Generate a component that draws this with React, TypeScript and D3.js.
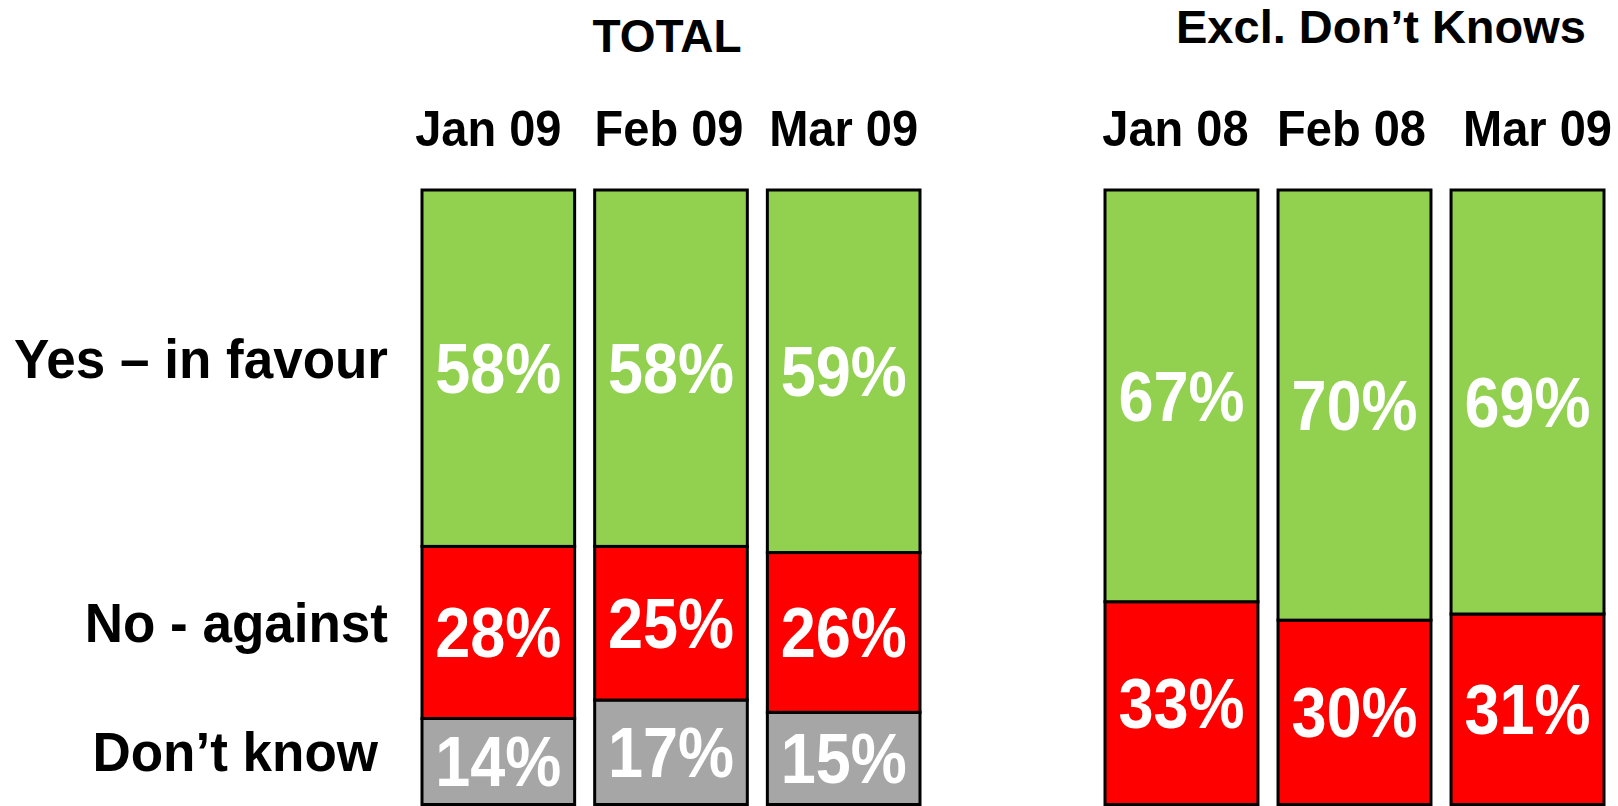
import React from 'react';
import * as d3 from 'd3';

const totalMonths = ['Jan 09', 'Feb 09', 'Mar 09'];
const totalYes = [58, 58, 59];
const totalNo = [28, 25, 26];
const totalDontKnow = [14, 17, 15];

const exclMonths = ['Jan 08', 'Feb 08', 'Mar 09'];
const exclYes = [67, 70, 69];
const exclNo = [33, 30, 31];

const rowLabels = ['Yes – in favour', 'No - against', 'Don’t know'];

const WIDTH = 1618;
const HEIGHT = 806;
const FONT = '"Liberation Sans", Arial, Helvetica, sans-serif';
const GREEN = '#92d050';
const RED = '#ff0000';
const GREY = '#a6a6a6';

const y = d3.scaleLinear().domain([0, 100]).range([804.5, 190]);

interface Series { key: string; values: number[]; color: string }

interface PanelProps {
  months: string[];
  monthNudge: number[];
  series: Series[]; // bottom-up
  x0: number;
  x1: number;
  title: string;
  titleX: number;
  titleY: number;
  titleSize: number;
}

const Panel: React.FC<PanelProps> = ({ months, monthNudge, series, x0, x1, title, titleX, titleY, titleSize }) => {
  const x = d3.scaleBand<string>().domain(months).range([x0, x1]).paddingInner(0.116).paddingOuter(0);

  const rows = months.map((m, i) => {
    const r: Record<string, number | string> = { month: m };
    series.forEach(s => { r[s.key] = s.values[i]; });
    return r;
  });
  const stacked = d3.stack<Record<string, number | string>>().keys(series.map(s => s.key))(rows as any);

  return (
    <g>
      <text x={titleX} y={titleY} textAnchor="middle" fontSize={titleSize} fontWeight="bold" fontFamily={FONT}>{title}</text>
      {months.map((m, i) => (
        <text key={m} transform={`translate(${x(m)! + x.bandwidth() / 2 + monthNudge[i]},146) scale(1,1.06)`}
          textAnchor="middle" fontSize={47} fontWeight="bold" fontFamily={FONT}>{m}</text>
      ))}
      {stacked.map((layer, li) => (
        <g key={layer.key}>
          {layer.map((d, i) => {
            const bx = x(months[i])!;
            const top = y(d[1]);
            const bot = y(d[0]);
            const cy = (top + bot) / 2;
            return (
              <g key={i}>
                <rect x={bx} y={top} width={x.bandwidth()} height={bot - top}
                  fill={series[li].color} stroke="#000" strokeWidth={3} />
                <text transform={`translate(${bx + x.bandwidth() / 2},${cy + 25}) scale(1,1.13)`}
                  textAnchor="middle" fontSize={63} fontWeight="bold" fill="#fff" fontFamily={FONT}>
                  {`${series[li].values[i]}%`}
                </text>
              </g>
            );
          })}
        </g>
      ))}
    </g>
  );
};

export default function App() {
  // row labels sit beside the first TOTAL bar's segments
  const firstStack = [
    { v0: totalDontKnow[0] + totalNo[0], v1: 100 },
    { v0: totalDontKnow[0], v1: totalDontKnow[0] + totalNo[0] },
    { v0: 0, v1: totalDontKnow[0] },
  ];
  const labelRight = [388, 388, 378];

  return (
    <svg width={WIDTH} height={HEIGHT} style={{ position: 'absolute', left: 0, top: 0, background: '#fff' }}>
      <rect width={WIDTH} height={HEIGHT} fill="#fff" />
      {rowLabels.map((l, i) => (
        <text key={l} transform={`translate(${labelRight[i]},${(y(firstStack[i].v0) + y(firstStack[i].v1)) / 2 + 10}) scale(1,1.06)`}
          textAnchor="end" fontSize={53} fontWeight="bold" fontFamily={FONT}>{l}</text>
      ))}
      <Panel
        months={totalMonths}
        monthNudge={[-10, -2, 0]}
        series={[
          { key: 'dk', values: totalDontKnow, color: GREY },
          { key: 'no', values: totalNo, color: RED },
          { key: 'yes', values: totalYes, color: GREEN },
        ]}
        x0={422} x1={920}
        title="TOTAL" titleX={667} titleY={52} titleSize={46}
      />
      <Panel
        months={exclMonths}
        monthNudge={[-6, -3, 10]}
        series={[
          { key: 'no', values: exclNo, color: RED },
          { key: 'yes', values: exclYes, color: GREEN },
        ]}
        x0={1105} x1={1604}
        title="Excl. Don’t Knows" titleX={1381} titleY={43} titleSize={47}
      />
    </svg>
  );
}
